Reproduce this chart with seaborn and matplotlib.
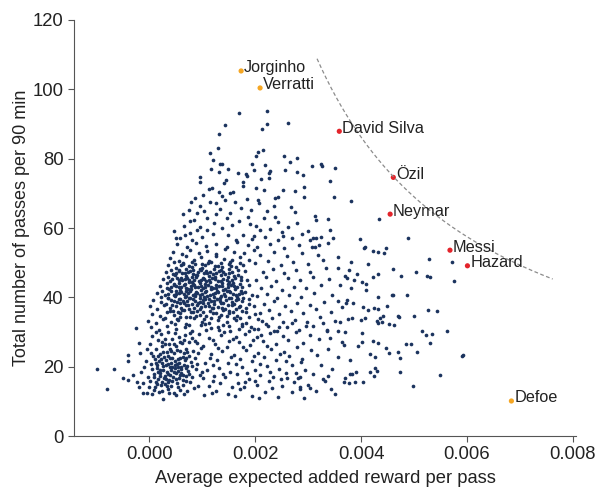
import matplotlib
matplotlib.use("Agg")
import matplotlib.pyplot as plt
import seaborn as sns
import pandas as pd
import numpy as np

# x values in units of 1e-4 (average expected added reward per pass), y = passes per 90 min
lobe = [(0.5,12.1),(1.8,12.8),(2.7,10.7),(4.6,12.3),(-0.4,12.5),(3.5,13.6),(5.8,13.2),(7.1,12.9),(8.4,13.8),(1.1,14.2),
(2.2,14.6),(3.0,15.1),(4.1,14.4),(5.2,15.3),(6.4,14.8),(7.8,15.6),(9.2,14.5),(0.2,15.8),(-1.2,15.2),(1.6,16.3),
(2.8,16.7),(3.7,16.1),(4.5,17.0),(5.6,16.6),(6.9,17.3),(8.1,16.9),(9.6,17.6),(-0.3,17.1),(0.9,17.8),(2.1,18.2),
(3.3,18.6),(4.2,18.9),(5.1,18.1),(6.0,19.2),(7.3,18.7),(8.8,19.4),(1.4,19.6),(2.6,20.1),(3.9,19.9),(4.8,20.6),
(5.7,21.0),(6.6,20.4),(7.9,21.3),(9.1,20.8),(0.4,20.9),(-0.9,19.8),(1.9,21.5),(3.1,21.9),(4.3,22.4),(5.4,22.1),
(6.3,22.8),(7.5,23.2),(8.6,22.6),(0.7,23.0),(2.0,23.6),(3.4,24.1),(4.6,23.8),(5.9,24.6),(7.0,25.0),(8.3,24.4),
(9.7,25.3),(1.2,25.2),(2.5,25.9),(3.8,26.4),(5.0,26.0),(6.2,26.8),(7.6,27.2),(9.0,26.7),(0.1,26.5),(1.7,27.6),
(3.0,28.1),(4.4,27.9),(5.6,28.6),(6.8,29.0),(8.1,28.4),(9.4,29.3),(0.6,28.8),(2.3,29.5),(3.6,30.1),(4.9,29.8),
(1.0,13.3),(2.4,13.1),(3.8,12.4),(5.0,11.8),(6.6,12.0),(0.0,14.0),(-1.9,14.2),(-1.1,12.5),(-2.3,15.7),(-3.1,17.6),
(-4.0,16.2),(-4.9,16.8),(-4.0,21.7),(-4.0,23.4),(-2.5,31.2),(-6.6,19.3),(-7.9,13.5),(-9.8,19.3),(-1.6,18.4),(-0.6,21.6),
(-1.8,23.9),(-0.5,25.1),(-2.0,26.7),(1.5,15.0),(3.6,15.6),(5.9,17.6),(7.0,16.0),(2.9,17.4),(4.9,19.5),(6.8,21.8),
(3.2,20.6),(1.1,22.2),(5.3,24.9),(7.2,24.2),(2.8,22.7),(4.0,25.2),(6.1,18.3),(8.0,20.2),(2.0,19.0),(3.5,23.1),
(9.9,18.6),(9.3,23.8),(8.7,27.5),(0.3,24.0),(1.3,29.9),(4.2,21.2),(5.5,19.8),(2.5,27.0),(6.5,27.7),(7.8,29.6)]

lobe_dense = [(1.3,15.7),(2.5,15.5),(3.3,14.3),(4.4,15.8),(5.5,14.2),(6.3,16.1),(1.0,16.9),(2.0,17.2),(3.2,16.4),(4.0,17.7),
(5.0,16.5),(6.4,17.6),(7.5,17.9),(1.6,18.6),(2.6,19.0),(3.6,17.9),(4.6,18.4),(5.5,18.8),(6.9,19.5),(0.6,19.4),
(1.5,20.4),(2.4,21.0),(3.6,20.9),(4.4,20.0),(5.2,20.9),(6.1,20.0),(7.2,20.1),(1.2,21.0),(2.2,22.3),(3.9,22.6),
(4.8,21.7),(5.9,22.5),(7.0,22.5),(1.6,23.2),(2.6,24.3),(4.2,24.5),(6.5,24.0),(3.0,26.4),(4.6,26.6),(5.9,27.2)]

lower_mid = [(10.4,11.9),(12.6,13.0),(14.8,12.2),(17.1,13.5),(19.5,11.6),(21.8,12.8),(24.3,11.3),(26.9,12.6),(29.2,11.0),(31.5,13.1),
(11.2,14.5),(13.4,15.2),(15.7,14.0),(18.0,15.6),(20.3,14.8),(22.6,15.9),(25.1,14.3),(27.4,15.5),(30.0,14.7),(33.2,15.8),
(10.1,16.6),(12.2,17.3),(14.3,16.9),(16.5,17.8),(18.8,16.4),(21.0,17.5),(23.4,17.0),(25.8,18.1),(28.1,16.8),(31.0,17.9),
(11.0,18.9),(13.1,19.6),(15.3,18.6),(17.6,19.9),(19.9,19.1),(22.2,20.2),(24.6,19.4),(26.9,20.6),(29.5,19.0),(32.4,20.4),
(10.5,21.2),(12.8,21.9),(14.9,21.0),(17.2,22.3),(19.4,21.6),(21.7,22.8),(24.0,21.9),(26.4,23.0),(28.8,22.1),(31.6,23.3),
(11.6,23.6),(13.8,24.4),(16.0,23.3),(18.3,24.8),(20.6,24.0),(23.0,25.1),(25.5,24.3),(27.9,25.6),(30.6,24.7),(33.8,25.2),
(10.2,25.9),(12.4,26.6),(14.6,25.6),(16.9,27.0),(19.1,26.3),(21.5,27.4),(23.9,26.6),(26.3,27.7),(29.0,26.9),(32.0,27.9),
(11.3,28.3),(13.5,29.0),(15.8,28.0),(18.1,29.4),(20.4,28.6),(22.8,29.8),(25.2,28.9),(27.7,30.1),(30.3,29.2),(33.5,30.3),
(10.8,30.7),(13.0,31.4),(15.2,30.4),(17.5,31.8),(19.8,31.0),(22.1,32.2),(24.5,31.3),(27.0,32.5),(29.7,31.6),(32.8,32.7),
(11.9,12.3),(16.2,11.4),(20.8,10.9),(23.2,13.9),(28.4,13.6),(12.0,16.0),(16.8,15.2),(20.0,16.0),(24.9,16.3),(13.9,18.0),
(18.5,18.2),(22.9,18.6),(27.7,18.3),(12.1,20.5),(16.4,20.8),(20.9,20.7),(25.9,21.5),(11.4,22.6),(15.5,22.9),(19.8,23.2),
(24.7,23.6),(13.0,25.5),(17.7,25.7),(22.3,26.1),(12.0,27.6),(16.3,28.6),(21.1,29.0),(14.2,30.0),(18.9,30.2),(23.6,30.4),
(34.5,19.3),(35.6,22.8),(34.2,28.3),(36.8,15.7),(35.1,12.2),(17.9,14.1),(15.0,27.3),(19.6,27.8),(26.0,16.6),(28.6,21.4)]

core = [(0.3,31.4),(1.9,30.6),(3.4,31.8),(5.0,30.9),(6.7,31.5),(8.1,30.3),(9.8,31.9),(11.6,31.1),(13.2,30.5),(15.1,31.7),(17.0,30.8),(19.2,31.3),
(-0.2,33.2),(1.2,32.6),(2.7,33.7),(4.1,32.9),(5.5,33.5),(6.9,32.4),(8.4,33.9),(9.9,33.0),(11.3,32.7),(12.9,33.6),(14.6,32.8),(16.4,33.4),(18.3,32.5),(20.5,33.8),
(0.6,35.3),(2.0,34.6),(3.3,35.8),(4.6,34.9),(5.8,35.5),(7.0,34.4),(8.2,35.9),(9.5,35.0),(10.8,34.7),(12.1,35.6),(13.5,34.8),(15.0,35.4),(16.6,34.5),(18.2,35.7),(19.9,35.1),
(0.1,37.4),(1.5,36.7),(2.8,37.8),(4.0,36.9),(5.1,37.5),(6.2,36.4),(7.3,37.9),(8.4,37.0),(9.5,36.6),(10.6,37.6),(11.8,36.8),(13.0,37.3),(14.3,36.5),(15.6,37.7),(16.9,37.1),(18.3,36.9),(19.8,37.5),
(0.8,39.3),(2.2,38.6),(3.5,39.8),(4.6,38.9),(5.6,39.5),(6.6,38.4),(7.6,39.9),(8.6,39.0),(9.6,38.7),(10.6,39.6),(11.7,38.8),(12.8,39.4),(13.9,38.5),(15.1,39.7),(16.3,39.1),(17.5,38.8),(18.8,39.5),
(1.4,41.2),(2.9,40.6),(4.1,41.7),(5.1,40.9),(6.0,41.5),(6.9,40.4),(7.8,41.8),(8.7,41.0),(9.6,40.7),(10.5,41.6),(11.5,40.8),(12.5,41.3),(13.6,40.5),(14.7,41.7),(15.8,41.1),(16.9,40.9),(18.1,41.4),(19.4,40.6),
(2.0,43.3),(3.4,42.6),(4.6,43.8),(5.6,42.9),(6.5,43.5),(7.4,42.4),(8.3,43.9),(9.2,43.0),(10.1,42.7),(11.1,43.6),(12.1,42.8),(13.2,43.4),(14.3,42.5),(15.4,43.7),(16.5,43.1),(17.6,42.9),(18.8,43.5),
(2.6,45.2),(4.0,44.6),(5.2,45.7),(6.2,44.9),(7.1,45.5),(8.0,44.4),(8.9,45.8),(9.8,45.0),(10.8,44.7),(11.8,45.6),(12.9,44.8),(14.0,45.3),(15.1,44.5),(16.2,45.7),(17.3,45.1),(18.5,44.9),
(3.1,47.3),(4.5,46.6),(5.7,47.8),(6.8,46.9),(7.8,47.5),(8.8,46.4),(9.8,47.9),(10.9,47.0),(12.0,46.7),(13.2,47.6),(14.4,46.8),(15.6,47.4),(16.8,46.5),(18.0,47.7),
(3.6,49.2),(5.0,48.6),(6.3,49.7),(7.5,48.9),(8.7,49.5),(9.9,48.4),(11.1,49.8),(12.4,49.0),(13.7,48.7),(15.0,49.6),(16.3,48.8),(17.7,49.3),
(4.0,51.3),(5.6,50.6),(7.0,51.8),(8.4,50.9),(9.8,51.5),(11.2,50.4),(12.7,51.9),(14.2,51.0),(15.7,50.7),(17.2,51.6),(18.8,50.8),
(4.5,53.2),(6.2,52.6),(7.8,53.7),(9.4,52.9),(11.0,53.5),(12.7,52.4),(14.4,53.8),(16.1,53.0),(17.9,52.7),(19.8,53.6),
(5.2,55.3),(7.1,54.6),(8.9,55.8),(10.8,54.9),(12.7,55.5),(14.6,54.4),(16.6,55.9),(18.7,55.0)]

core_dense = [(4.8,32.2),(7.6,31.9),(10.6,32.4),(13.9,32.0),(17.6,32.3),
(3.0,34.1),(5.2,33.8),(7.7,34.3),(10.3,33.7),(13.2,34.2),(16.0,33.9),(18.9,34.4),
(3.9,36.0),(5.5,35.8),(6.6,36.3),(7.9,35.7),(9.0,36.2),(10.1,35.9),(11.4,36.1),(12.6,35.6),(14.0,36.3),(15.8,35.8),(17.5,36.2),
(3.2,38.1),(4.3,37.9),(5.9,38.3),(7.0,37.7),(8.0,38.2),(9.1,37.8),(10.2,38.3),(11.3,37.6),(12.3,38.0),(13.5,38.3),(14.8,37.8),(16.0,38.2),(17.1,37.6),
(2.2,40.0),(3.6,39.8),(4.9,40.3),(5.9,39.6),(6.8,40.2),(7.7,39.7),(8.6,40.3),(9.5,39.9),(10.4,40.1),(11.3,39.6),(12.3,40.2),(13.3,39.8),(14.4,40.3),(15.5,39.7),(16.6,40.1),(17.8,39.9),
(2.5,41.9),(3.8,42.3),(5.0,41.7),(5.9,42.2),(6.9,41.8),(7.9,42.3),(8.8,41.6),(9.7,42.1),(10.7,41.9),(11.7,42.4),(12.8,41.7),(13.9,42.2),(15.1,41.8),(16.2,42.3),(17.4,41.9),
(3.3,44.0),(4.6,43.7),(5.7,44.2),(6.7,43.8),(7.6,44.3),(8.5,43.6),(9.5,44.1),(10.5,43.8),(11.5,44.3),(12.6,43.7),(13.7,44.2),(14.8,43.9),(15.9,44.2),(17.1,43.8),
(3.6,45.9),(4.9,46.3),(6.0,45.7),(7.0,46.2),(8.0,45.8),(9.1,46.3),(10.2,45.6),(11.3,46.1),(12.4,45.9),(13.6,46.4),(14.8,45.8),(16.0,46.2),(17.3,45.9),
(4.1,48.0),(5.6,47.7),(7.0,48.3),(8.3,47.9),(9.5,48.2),(10.8,47.6),(12.2,48.1),(13.6,47.8),(15.1,48.3),(16.7,47.9),
(4.6,50.1),(6.4,49.8),(8.1,50.3),(9.9,49.7),(11.7,50.2),(13.5,49.9),(15.3,50.3),(17.2,49.8)]

core_peak = [(5.9,34.2),(8.9,34.6),(11.7,34.1),(14.6,34.5),(17.2,34.0),
(4.5,36.2),(6.0,37.0),(7.6,36.5),(9.8,37.2),(12.0,37.0),(13.7,36.9),(15.0,36.2),(16.4,36.6),(18.8,38.0),
(4.1,39.2),(5.2,38.6),(6.3,39.0),(7.2,38.8),(8.2,39.4),(9.2,38.5),(10.1,39.2),(11.1,38.4),(12.3,39.0),(13.3,38.9),(14.5,39.2),(15.6,38.6),(16.8,39.4),
(3.6,41.0),(4.6,40.7),(5.6,41.2),(6.5,40.9),(7.3,41.2),(8.2,40.6),(9.1,41.3),(10.0,41.1),(11.0,40.5),(12.0,41.0),(13.0,41.5),(14.2,40.9),(15.3,41.4),(16.4,40.7),(17.6,41.2),
(4.1,43.0),(5.1,43.3),(6.0,43.0),(6.9,42.7),(7.9,43.2),(8.7,42.9),(9.7,43.4),(10.6,42.9),(11.6,43.1),(12.7,42.7),(13.8,43.2),(14.9,42.9),(16.0,43.4),
(4.3,45.2),(5.7,45.0),(6.7,45.3),(7.6,44.9),(8.5,45.1),(9.4,44.7),(10.3,45.2),(11.3,44.9),(12.4,45.3),(13.5,44.8),(14.6,45.1),(15.7,44.9),
(5.1,47.1),(6.2,46.9),(7.3,47.2),(8.3,46.8),(9.3,47.2),(10.4,46.9),(11.5,47.3),(12.7,47.0),(13.9,47.3),(15.1,47.0),
(6.0,49.3),(8.1,48.8),(10.5,49.2),(12.9,48.9),(15.5,49.1)]

core_right = [(20.6,30.9),(22.4,31.6),(24.1,30.4),(26.0,31.3),(28.3,30.7),(30.9,31.8),(33.6,30.6),
(21.3,33.1),(23.2,34.0),(25.3,32.8),(27.5,33.6),(29.8,32.9),(32.2,34.2),(35.0,33.3),
(20.9,35.6),(22.7,36.4),(24.6,35.2),(26.8,36.1),(29.1,35.5),(31.5,36.6),(34.3,35.8),
(21.6,38.0),(23.5,38.8),(25.6,37.6),(27.9,38.5),(30.3,37.9),(33.0,38.7),
(20.4,40.3),(22.2,41.1),(24.2,39.9),(26.4,40.8),(28.7,40.2),(31.2,41.3),(34.5,40.6),
(21.1,42.7),(23.0,43.4),(25.1,42.2),(27.3,43.1),(29.7,42.6),(32.5,43.7),
(20.2,45.0),(22.0,45.8),(24.0,44.6),(26.2,45.5),(28.5,44.9),(31.0,46.0),(34.0,45.3),
(21.4,47.4),(23.4,48.1),(25.5,47.0),(27.8,47.9),(30.4,47.3),(33.3,48.4),
(20.0,49.8),(22.5,50.6),(24.8,49.4),(27.2,50.3),(29.9,49.6),(32.8,50.8),
(21.0,52.2),(23.6,53.0),(26.1,51.8),(28.9,52.7),(31.8,52.1),
(20.3,54.5),(22.9,55.3),(25.4,54.1),(28.2,55.0),(30.8,54.4),
(19.5,56.8),(21.8,57.5),(24.3,56.4),(27.0,57.2)]

upper = [(17.0,93.2),(22.3,93.7),(14.3,89.8),(22.3,89.9),(21.3,88.7),(26.2,90.2),(13.1,87.1),(13.0,83.0),(11.4,81.7),(20.5,81.9),
(21.5,82.5),(20.2,80.8),(12.1,79.6),(13.3,78.6),(13.8,78.6),(19.4,78.4),(21.8,78.2),(25.5,80.8),(26.5,79.0),(27.9,80.1),
(11.6,77.0),(14.8,76.9),(13.1,76.1),(16.8,75.9),(22.8,76.5),(22.6,75.8),(25.7,76.8),(28.0,76.1),(30.7,77.8),(32.4,78.5),
(32.7,78.0),(35.0,77.2),(29.1,75.3),(18.4,74.9),(17.8,73.4),(21.1,74.1),(22.7,74.3),(14.5,73.8),(14.2,72.9),(11.9,71.4),
(20.2,71.4),(21.7,71.0),(25.2,71.0),(27.5,70.8),(29.2,71.7),(29.2,68.9),(34.2,73.6),(34.9,68.9),(24.4,68.9),(23.7,68.6),
(18.5,68.4),(20.6,68.1),(23.5,66.3),(20.8,67.1),(19.2,65.2),(27.5,64.5),(28.0,61.3),(23.8,63.1),(24.4,61.6),(31.3,63.4),
(31.5,62.4),(33.8,62.5),(29.9,59.2),(34.2,59.4),(30.9,57.0),(31.5,57.2),(32.4,57.3),(34.7,57.2),(33.8,55.8),(25.0,58.8),
(25.2,57.6),(22.8,59.6),(20.2,60.5),(20.9,59.4),(19.7,57.6),(17.8,58.0),(9.6,73.2),(9.5,74.8),(11.2,71.2),(7.9,67.6),
(8.7,68.6),(9.6,66.3),(9.0,64.3),(7.5,65.2),(8.4,62.3),(7.7,61.9),(11.0,62.8),(5.8,57.0),(5.1,57.0),(6.8,58.0),
(7.7,58.5),(9.0,59.4),(9.6,60.4),(11.0,59.4),(12.1,58.4),(14.7,62.8),(15.3,64.2),(15.3,70.0),(15.9,70.5),(17.8,72.0),
(18.2,75.5),(19.7,76.7),(13.1,70.5),(13.7,69.1),(14.3,68.1),(12.6,67.1),(13.4,65.6),(11.5,67.6),(38.2,67.8),(43.4,62.6),
(39.9,56.8),(48.8,57.0),(30.4,56.5),(10.4,64.9),(12.3,61.3),(13.8,59.9),(15.6,60.8),(16.9,62.0),(17.4,65.7),(16.2,67.4),
(18.6,63.2),(10.2,69.5),(6.6,60.6),(8.1,56.5),(10.0,57.3),(14.9,57.9),(16.4,56.6),(12.6,63.9),(21.7,62.9),(22.3,65.0),
(19.0,61.1),(26.3,60.4),(26.8,66.2),(28.8,58.3),(6.3,63.9),(4.6,59.0)]

tail = [(40.6,54.3),(42.3,53.4),(43.3,53.2),(44.3,52.9),(44.7,54.1),(35.6,51.5),(38.1,50.1),(41.4,49.5),(35.7,48.6),(37.7,47.8),
(39.2,46.7),(37.0,46.2),(37.4,45.5),(43.3,46.7),(42.3,45.8),(46.1,48.1),(47.6,46.2),(50.3,47.4),(52.4,46.1),(53.0,45.8),
(52.9,51.0),(57.1,50.1),(57.6,44.7),(40.2,44.3),(41.0,43.8),(38.7,45.0),(38.2,42.6),(36.0,43.5),(40.9,42.1),(43.3,40.0),
(45.9,40.7),(48.6,40.7),(44.9,37.6),(35.6,38.9),(37.3,39.2),(37.1,38.3),(36.4,37.1),(38.5,38.3),(40.4,37.1),(41.4,36.3),
(42.5,36.8),(43.3,36.6),(44.2,34.7),(43.6,33.9),(43.0,33.2),(43.3,32.5),(43.9,32.8),(45.2,32.3),(46.2,32.0),(47.0,34.5),
(50.1,34.5),(52.6,36.3),(54.4,36.1),(51.6,30.3),(52.2,29.1),(53.5,29.3),(56.2,30.3),(53.0,26.7),(48.5,26.5),(49.5,26.5),
(50.5,24.3),(59.3,23.4),(59.1,23.2),(55.0,17.6),(49.9,14.4),(47.4,18.4),(42.6,19.5),(43.0,18.7),(41.7,18.6),(39.0,18.6),
(37.9,17.8),(38.3,17.8),(37.0,16.6),(38.9,15.5),(40.4,15.5),(42.5,17.2),(42.3,27.3),(43.3,26.7),(44.8,25.3),(45.2,23.9),
(46.9,24.3),(47.4,22.4),(41.7,23.6),(42.6,22.9),(40.1,29.6),(39.5,26.0),(40.1,27.0),(37.9,21.9),(36.5,27.2),(36.8,26.2),
(35.7,30.3),(37.0,29.9),(36.0,33.0),(37.6,33.7),(38.3,33.9),(40.0,33.5),(40.8,34.1),(46.0,40.7),(47.2,34.4),(34.3,13.5),
(30.4,13.9),(32.9,16.3),(33.8,17.3),(28.5,17.1),(28.5,14.2),(37.8,15.4),(40.8,54.6),(31.3,54.6),(32.0,55.1)]

# Highlighted players
players = ["Jorginho", "Verratti", "David Silva", "Özil", "Neymar", "Messi", "Hazard", "Defoe"]
player_x = [17.36, 20.94, 35.9, 46.1, 45.5, 56.8, 60.1, 68.4]   # units of 1e-4
player_y = [105.3, 100.4, 87.9, 74.6, 64.0, 53.6, 49.1, 10.1]
player_group = ["orange", "orange", "red", "red", "red", "red", "red", "orange"]

# Iso-reward curve: passes * reward = constant
curve_const = 0.345
curve_x_start, curve_x_end = 0.00317, 0.00762

xticks = [0.000, 0.002, 0.004, 0.006, 0.008]
yticks = [0, 20, 40, 60, 80, 100, 120]

NAVY = "#1b335e"
COLORS = {"orange": "#f5a623", "red": "#e3242b"}

sns.set_style("ticks")
plt.rcParams["font.family"] = ["Liberation Sans", "DejaVu Sans"]

all_pts = lobe + lobe_dense + lower_mid + core + core_dense + core_peak + core_right + upper + tail
df = pd.DataFrame(all_pts, columns=["xr", "passes"])
df["reward"] = df["xr"] * 1e-4

pdf = pd.DataFrame({"name": players, "reward": np.array(player_x) * 1e-4,
                    "passes": player_y, "group": player_group})

cx = np.linspace(curve_x_start, curve_x_end, 200)
cdf = pd.DataFrame({"reward": cx, "passes": curve_const / cx})

fig = plt.figure(figsize=(5.98, 4.90), dpi=100)
ax = fig.add_axes([74/598, 1-436/490, (576-74)/598, (436-20)/490])

sns.scatterplot(data=df, x="reward", y="passes", color=NAVY, s=7, linewidth=0, ax=ax, legend=False)
sns.lineplot(data=cdf, x="reward", y="passes", color="#8c8c8c", linewidth=0.9,
             dashes=False, ax=ax, legend=False)
ax.lines[-1].set_linestyle((0, (3, 2)))
sns.scatterplot(data=pdf, x="reward", y="passes", hue="group", palette=COLORS,
                s=14, linewidth=0, ax=ax, legend=False)

for _, r in pdf.iterrows():
    ax.annotate(r["name"], (r["reward"], r["passes"]), xytext=(2, -1),
                textcoords="offset points", ha="left", va="baseline",
                fontsize=11.7, color="#222222")

ax.set_xlim(-0.00142, 0.00806)
ax.set_ylim(0, 120)
ax.set_xticks(xticks)
ax.set_xticklabels([f"{t:.3f}" for t in xticks])
ax.set_yticks(yticks)
ax.tick_params(axis="both", labelsize=13.3, colors="#555555", labelcolor="#222222", length=4, width=0.8)
ax.set_xlabel("Average expected added reward per pass", fontsize=13.2, color="#222222", labelpad=5)
ax.set_ylabel("Total number of passes per 90 min", fontsize=13, color="#222222", labelpad=2)
for s in ["left", "bottom"]:
    ax.spines[s].set_color("#555555")
    ax.spines[s].set_linewidth(0.8)
sns.despine(ax=ax)

fig.savefig("out.png", dpi=100)
